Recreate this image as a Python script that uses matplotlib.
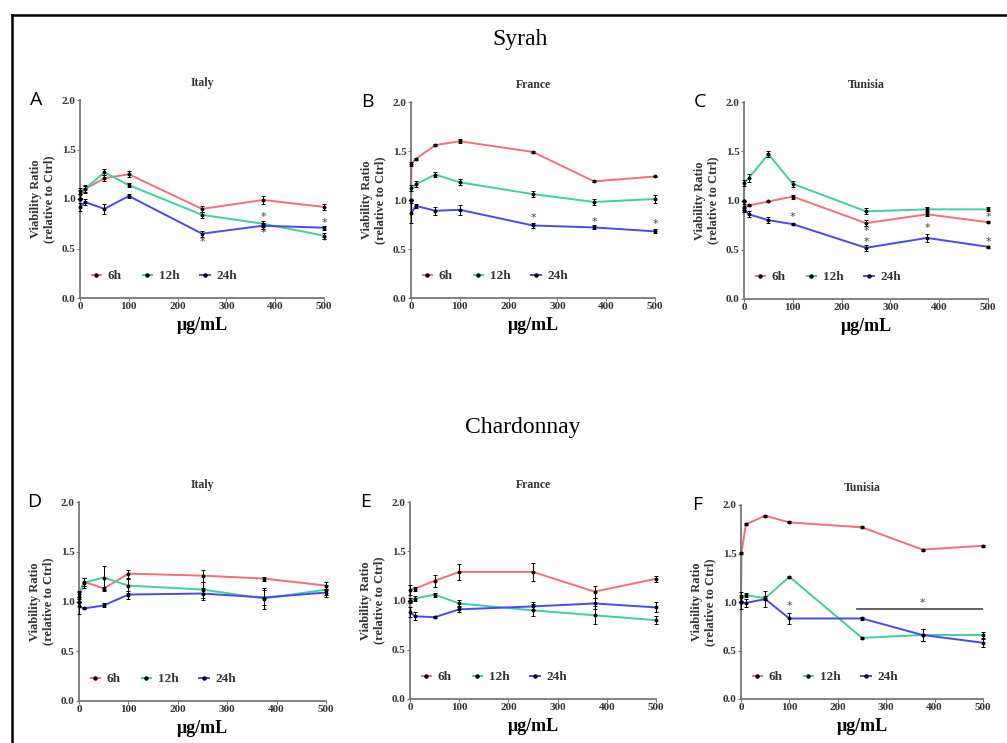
import numpy as np
import matplotlib.pyplot as plt
from matplotlib.lines import Line2D

# concentrations (ug/mL)
conc = [0, 1, 10, 50, 100, 250, 375, 500]

# Syrah - Italy
sy_it_6h = [1.0, 1.05, 1.10, 1.21, 1.25, 0.90, 0.99, 0.92]
sy_it_12h = [1.0, 1.08, 1.10, 1.27, 1.14, 0.84, 0.75, 0.63]
sy_it_24h = [1.0, 0.92, 0.97, 0.90, 1.03, 0.65, 0.73, 0.71]
sy_it_err = [[0, 0.04, 0.04, 0.03, 0.03, 0.03, 0.04, 0.03],
             [0, 0.03, 0.03, 0.03, 0.02, 0.03, 0.03, 0.03],
             [0, 0.04, 0.03, 0.05, 0.02, 0.03, 0.03, 0.02]]
sy_it_stars = [(250, 0.57), (375, 0.82), (375, 0.66), (500, 0.76), (500, 0.58)]

# Syrah - France
sy_fr_6h = [1.0, 1.37, 1.42, 1.56, 1.60, 1.49, 1.19, 1.24]
sy_fr_12h = [1.0, 1.12, 1.16, 1.26, 1.18, 1.06, 0.98, 1.01]
sy_fr_24h = [1.0, 0.87, 0.94, 0.89, 0.90, 0.74, 0.72, 0.68]
sy_fr_err = [[0, 0.02, 0.01, 0.01, 0.02, 0.01, 0.01, 0.01],
             [0, 0.03, 0.03, 0.03, 0.03, 0.03, 0.03, 0.04],
             [0, 0.10, 0.02, 0.04, 0.05, 0.03, 0.02, 0.02]]
sy_fr_stars = [(250, 0.82), (375, 0.78), (500, 0.76)]

# Syrah - Tunisia
sy_tn_6h = [1.0, 0.93, 0.95, 0.99, 1.04, 0.77, 0.86, 0.78]
sy_tn_12h = [1.0, 1.18, 1.23, 1.47, 1.17, 0.89, 0.91, 0.91]
sy_tn_24h = [1.0, 0.90, 0.86, 0.80, 0.76, 0.52, 0.62, 0.53]
sy_tn_err = [[0, 0.03, 0.01, 0.01, 0.02, 0.03, 0.02, 0.01],
             [0, 0.03, 0.04, 0.03, 0.03, 0.03, 0.02, 0.02],
             [0, 0.02, 0.03, 0.03, 0.01, 0.03, 0.04, 0.01]]
sy_tn_stars = [(100, 0.83), (250, 0.69), (250, 0.58), (375, 0.72), (500, 0.83), (500, 0.58)]

# Chardonnay - Italy
ch_it_6h = [1.0, 1.08, 1.20, 1.13, 1.28, 1.26, 1.23, 1.16]
ch_it_12h = [1.0, 1.05, 1.19, 1.24, 1.16, 1.12, 1.03, 1.12]
ch_it_24h = [1.0, 0.95, 0.93, 0.96, 1.07, 1.08, 1.04, 1.09]
ch_it_err = [[0, 0.03, 0.04, 0.02, 0.04, 0.06, 0.02, 0.04],
             [0, 0.05, 0.05, 0.12, 0.07, 0.08, 0.11, 0.05],
             [0, 0.08, 0.01, 0.02, 0.04, 0.06, 0.08, 0.04]]
ch_it_stars = []

# Chardonnay - France
ch_fr_6h = [1.0, 1.11, 1.12, 1.20, 1.29, 1.29, 1.09, 1.22]
ch_fr_12h = [1.0, 1.00, 1.02, 1.06, 0.97, 0.90, 0.85, 0.80]
ch_fr_24h = [1.0, 0.88, 0.84, 0.83, 0.91, 0.94, 0.97, 0.93]
ch_fr_err = [[0, 0.05, 0.02, 0.06, 0.08, 0.09, 0.06, 0.03],
             [0, 0.03, 0.03, 0.02, 0.04, 0.06, 0.09, 0.04],
             [0, 0.05, 0.04, 0.01, 0.03, 0.04, 0.06, 0.05]]
ch_fr_stars = []

# Chardonnay - Tunisia
ch_tn_6h = [1.0, 1.51, 1.80, 1.89, 1.82, 1.77, 1.54, 1.58]
ch_tn_12h = [1.0, 1.05, 1.07, 1.04, 1.26, 0.63, 0.66, 0.66]
ch_tn_24h = [1.0, 1.00, 0.99, 1.03, 0.83, 0.83, 0.66, 0.58]
ch_tn_err = [[0, 0.01, 0.01, 0.01, 0.01, 0.01, 0.01, 0.01],
             [0, 0.05, 0.02, 0.02, 0.01, 0.01, 0.06, 0.03],
             [0, 0.07, 0.04, 0.08, 0.06, 0.02, 0.06, 0.04]]
ch_tn_stars = [(100, 0.96)]
ch_tn_bar = (240, 500, 0.93)

series_labels = ['6h', '12h', '24h']
colors = ['#f0707a', '#40d09c', '#4a48ee']

panels = [
    ('A', 'Italy', [sy_it_6h, sy_it_12h, sy_it_24h], sy_it_err, sy_it_stars, None, (80, 324, 100, 298)),
    ('B', 'France', [sy_fr_6h, sy_fr_12h, sy_fr_24h], sy_fr_err, sy_fr_stars, None, (411, 655, 102, 298)),
    ('C', 'Tunisia', [sy_tn_6h, sy_tn_12h, sy_tn_24h], sy_tn_err, sy_tn_stars, None, (744, 988, 102, 299)),
    ('D', 'Italy', [ch_it_6h, ch_it_12h, ch_it_24h], ch_it_err, ch_it_stars, None, (79, 326, 502, 701)),
    ('E', 'France', [ch_fr_6h, ch_fr_12h, ch_fr_24h], ch_fr_err, ch_fr_stars, None, (410, 656, 502, 699)),
    ('F', 'Tunisia', [ch_tn_6h, ch_tn_12h, ch_tn_24h], ch_tn_err, ch_tn_stars, ch_tn_bar, (741, 983, 505, 699)),
]

W, H = 1007, 743
serif = ['Liberation Serif', 'DejaVu Serif']
fig = plt.figure(figsize=(W / 100, H / 100), dpi=100)

# frame around the figure (top and left edges visible)
fig.add_artist(Line2D([12 / W, 12 / W], [0, 1 - 15 / H], color='black', lw=1.8))
fig.add_artist(Line2D([12 / W, 1], [1 - 15 / H, 1 - 15 / H], color='black', lw=1.8))

fig.text(520 / W, 1 - 40 / H, 'Syrah', ha='center', va='center', fontsize=17, family=serif)
fig.text(523 / W, 1 - 428 / H, 'Chardonnay', ha='center', va='center', fontsize=17, family=serif)

for letter, title, ys, errs, stars, bar, (l, r, t, b) in panels:
    ax = fig.add_axes([l / W, 1 - b / H, (r - l) / W, (b - t) / H])
    for y, e, c, lab in zip(ys, errs, colors, series_labels):
        ax.plot(conc, y, color=c, lw=1.4, zorder=2, clip_on=False)
        ax.errorbar(conc, y, yerr=e, fmt='o', color='black', ms=1.8, elinewidth=0.7,
                    capsize=1.5, capthick=0.7, zorder=3, clip_on=False)
    for sx, sy in stars:
        ax.text(sx, sy, '*', ha='center', va='center', fontsize=8, color='#444444')
    if bar is not None:
        ax.plot([bar[0], bar[1]], [bar[2], bar[2]], color='#555555', lw=1.3)
        ax.text((bar[0] + bar[1]) / 2 + 5, bar[2] + 0.06, '*', ha='center', va='center',
                fontsize=8, color='#444444')

    ax.set_xlim(0, 500)
    ax.set_ylim(0, 2)
    ax.set_xticks([0, 100, 200, 300, 400, 500])
    ax.set_yticks([0, 0.5, 1.0, 1.5, 2.0])
    ax.set_yticklabels(['0.0', '0.5', '1.0', '1.5', '2.0'])
    for s in ['top', 'right']:
        ax.spines[s].set_visible(False)
    for s in ['left', 'bottom']:
        ax.spines[s].set_color('#777777')
        ax.spines[s].set_linewidth(1.3)
    ax.tick_params(length=2, width=0.8, color='#777777', labelsize=8, pad=1)
    for lbl in ax.get_xticklabels() + ax.get_yticklabels():
        lbl.set_family(serif)
        lbl.set_fontweight('bold')
        lbl.set_color('#333333')

    ax.set_xlabel('μg/mL', fontsize=13, fontweight='bold', family=serif, labelpad=4)
    ax.set_ylabel('Viability Ratio\n(relative to Ctrl)', fontsize=9, fontweight='bold',
                  family=serif, labelpad=5, linespacing=1.1, color='#333333')
    ax.set_title(title, fontsize=8.5, fontweight='bold', family=serif, pad=10, color='#333333')
    ax.text(-0.18, 1.0, letter, transform=ax.transAxes, fontsize=14,
            family=['Open Sans', 'DejaVu Sans'], ha='center', va='center')

    handles = [Line2D([0], [0], color=c, lw=1.4, marker='o', ms=2.2,
                      markerfacecolor='black', markeredgecolor='black') for c in colors]
    leg = ax.legend(handles, series_labels, ncol=3, loc='lower left', frameon=False,
                    bbox_to_anchor=(0.0, 0.02), handlelength=0.7, handletextpad=0.5,
                    columnspacing=1.6, prop={'family': serif, 'weight': 'bold', 'size': 9.5})
    for txt in leg.get_texts():
        txt.set_color('#333333')

fig.savefig('out.png', dpi=100)
